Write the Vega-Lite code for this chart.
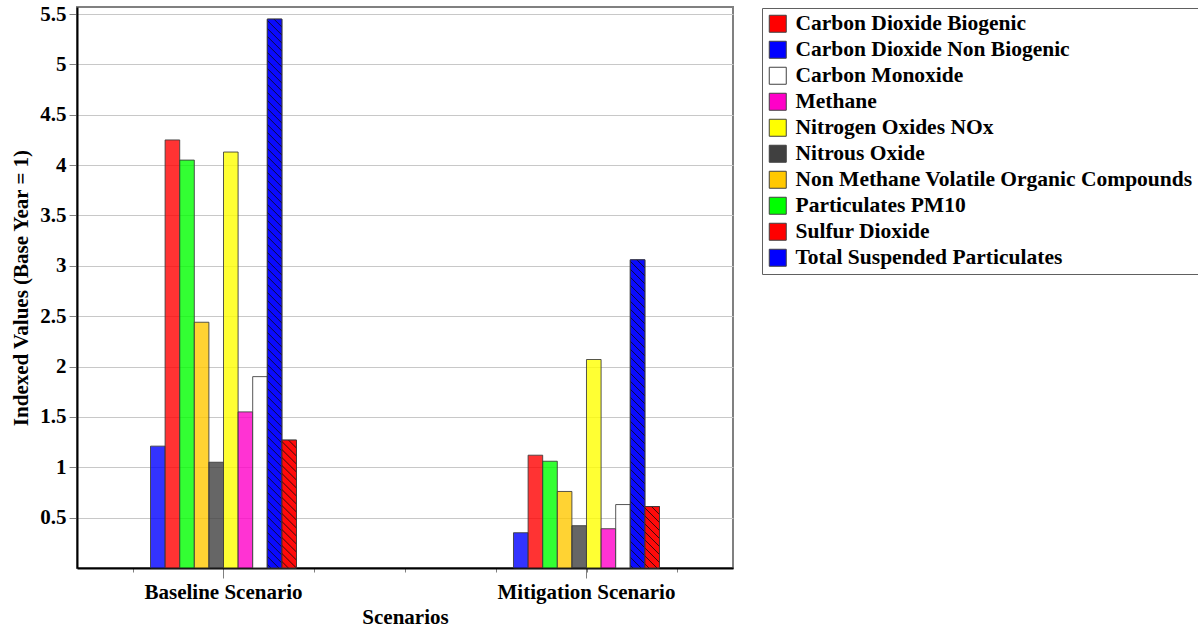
{
"$schema":"https://vega.github.io/schema/vega-lite/v6.json",
"width":656,"height":561,
"autosize":"none",
"padding":{"left":77,"top":7,"right":465,"bottom":62},
"background":"white",
"config":{"font":"Liberation Serif","view":{"stroke":"#808080","strokeWidth":2},
"axis":{"labelFont":"Liberation Serif","labelFontWeight":"bold","labelFontSize":21,"labelColor":"#000","titleFont":"Liberation Serif","titleFontWeight":"bold","titleFontSize":21,"titleColor":"#000"}},
"data":{"values":[
{"scenario":"Baseline Scenario","pollutant":"Total Suspended Particulates","value":1.21},
{"scenario":"Baseline Scenario","pollutant":"Sulfur Dioxide","value":4.25},
{"scenario":"Baseline Scenario","pollutant":"Particulates PM10","value":4.05},
{"scenario":"Baseline Scenario","pollutant":"Non Methane Volatile Organic Compounds","value":2.44},
{"scenario":"Baseline Scenario","pollutant":"Nitrous Oxide","value":1.05},
{"scenario":"Baseline Scenario","pollutant":"Nitrogen Oxides NOx","value":4.13},
{"scenario":"Baseline Scenario","pollutant":"Methane","value":1.55},
{"scenario":"Baseline Scenario","pollutant":"Carbon Monoxide","value":1.9},
{"scenario":"Baseline Scenario","pollutant":"Carbon Dioxide Non Biogenic","value":5.45},
{"scenario":"Baseline Scenario","pollutant":"Carbon Dioxide Biogenic","value":1.27},
{"scenario":"Mitigation Scenario","pollutant":"Total Suspended Particulates","value":0.35},
{"scenario":"Mitigation Scenario","pollutant":"Sulfur Dioxide","value":1.12},
{"scenario":"Mitigation Scenario","pollutant":"Particulates PM10","value":1.06},
{"scenario":"Mitigation Scenario","pollutant":"Non Methane Volatile Organic Compounds","value":0.76},
{"scenario":"Mitigation Scenario","pollutant":"Nitrous Oxide","value":0.42},
{"scenario":"Mitigation Scenario","pollutant":"Nitrogen Oxides NOx","value":2.07},
{"scenario":"Mitigation Scenario","pollutant":"Methane","value":0.39},
{"scenario":"Mitigation Scenario","pollutant":"Carbon Monoxide","value":0.63},
{"scenario":"Mitigation Scenario","pollutant":"Carbon Dioxide Non Biogenic","value":3.06},
{"scenario":"Mitigation Scenario","pollutant":"Carbon Dioxide Biogenic","value":0.61}
]},
"resolve":{"scale":{"x":"independent"},"axis":{"x":"independent"}},
"layer":[
{"mark":{"type":"point","opacity":0},
"encoding":{
"x":{"field":"scenario","type":"nominal","scale":{"type":"point","domain":["m1","Baseline Scenario","m2","m3","m4","Mitigation Scenario","m5"],"padding":0.6143,"align":0.5},
"axis":{"orient":"bottom","title":null,"labels":false,"domain":false,"tickSize":4,"tickColor":"#808080","grid":false}}
}},
{"mark":{"type":"bar","fillOpacity":0.8,"stroke":"#383838","strokeWidth":1,"strokeOpacity":0.85},
"encoding":{
"x":{"field":"scenario","type":"nominal","scale":{"type":"band","domain":["Baseline Scenario","Mitigation Scenario"],"paddingInner":0.5978,"paddingOuter":0.2025},
"axis":{"orient":"bottom","title":"Scenarios","labelAngle":0,"tickSize":10,"tickColor":"#808080","labelPadding":3,"domainColor":"#000","domainWidth":2,"titlePadding":4,"grid":false}},
"xOffset":{"field":"pollutant","type":"nominal","scale":{"domain":["Total Suspended Particulates","Sulfur Dioxide","Particulates PM10","Non Methane Volatile Organic Compounds","Nitrous Oxide","Nitrogen Oxides NOx","Methane","Carbon Monoxide","Carbon Dioxide Non Biogenic","Carbon Dioxide Biogenic"],"paddingInner":0,"paddingOuter":0}},
"y":{"field":"value","type":"quantitative","scale":{"domain":[0,5.57],"nice":false,"zero":true},
"axis":{"title":"Indexed Values (Base Year = 1)","values":[0.5,1,1.5,2,2.5,3,3.5,4,4.5,5,5.5],"format":"~g","grid":true,"gridColor":"#c8c8c8","gridWidth":1,"tickColor":"#808080","tickSize":8,"labelPadding":3,"domainColor":"#000","domainWidth":2,"titlePadding":8}},
"fill":{"field":"pollutant","type":"nominal",
"scale":{"domain":["Carbon Dioxide Biogenic","Carbon Dioxide Non Biogenic","Carbon Monoxide","Methane","Nitrogen Oxides NOx","Nitrous Oxide","Non Methane Volatile Organic Compounds","Particulates PM10","Sulfur Dioxide","Total Suspended Particulates"],
"range":["#ff0000","#0000ff","#ffffff","#ff00c8","#ffff00","#404040","#ffc800","#00ff00","#ff0000","#0000ff"]},
"legend":{"title":null,"orient":"none","legendX":685,"legendY":1,"symbolType":"square","symbolSize":289,"symbolStrokeColor":"#404040","symbolStrokeWidth":1,"symbolOpacity":1,"labelFont":"Liberation Serif","labelFontSize":21.5,"labelFontWeight":"bold","labelColor":"#000","labelOffset":7,"labelLimit":600,"rowPadding":3,"padding":5,"strokeColor":"#606060","fillColor":"#ffffff"}}
}},
{"transform":[{"filter":"datum.scenario === 'Baseline Scenario' && datum.pollutant === 'Carbon Dioxide Non Biogenic'"}],
"mark":{"type":"bar","fillOpacity":0.8,"stroke":"#383838","strokeWidth":1,"strokeOpacity":0.85,"fill":{"gradient":"linear","x1":1,"y1":0,"x2":0.96901,"y2":1.16514,"stops":[
{"offset":0.011,"color":"#00f"},{"offset":0.0125,"color":"#000"},{"offset":0.014,"color":"#00f"},
{"offset":0.0235,"color":"#00f"},{"offset":0.025,"color":"#000"},{"offset":0.0265,"color":"#00f"},
{"offset":0.036,"color":"#00f"},{"offset":0.0375,"color":"#000"},{"offset":0.039,"color":"#00f"},
{"offset":0.0485,"color":"#00f"},{"offset":0.05,"color":"#000"},{"offset":0.0515,"color":"#00f"},
{"offset":0.061,"color":"#00f"},{"offset":0.0625,"color":"#000"},{"offset":0.064,"color":"#00f"},
{"offset":0.0735,"color":"#00f"},{"offset":0.075,"color":"#000"},{"offset":0.0765,"color":"#00f"},
{"offset":0.086,"color":"#00f"},{"offset":0.0875,"color":"#000"},{"offset":0.089,"color":"#00f"},
{"offset":0.0985,"color":"#00f"},{"offset":0.1,"color":"#000"},{"offset":0.1015,"color":"#00f"},
{"offset":0.111,"color":"#00f"},{"offset":0.1125,"color":"#000"},{"offset":0.114,"color":"#00f"},
{"offset":0.1235,"color":"#00f"},{"offset":0.125,"color":"#000"},{"offset":0.1265,"color":"#00f"},
{"offset":0.136,"color":"#00f"},{"offset":0.1375,"color":"#000"},{"offset":0.139,"color":"#00f"},
{"offset":0.1485,"color":"#00f"},{"offset":0.15,"color":"#000"},{"offset":0.1515,"color":"#00f"},
{"offset":0.161,"color":"#00f"},{"offset":0.1625,"color":"#000"},{"offset":0.164,"color":"#00f"},
{"offset":0.1735,"color":"#00f"},{"offset":0.175,"color":"#000"},{"offset":0.1765,"color":"#00f"},
{"offset":0.186,"color":"#00f"},{"offset":0.1875,"color":"#000"},{"offset":0.189,"color":"#00f"},
{"offset":0.1985,"color":"#00f"},{"offset":0.2,"color":"#000"},{"offset":0.2015,"color":"#00f"},
{"offset":0.211,"color":"#00f"},{"offset":0.2125,"color":"#000"},{"offset":0.214,"color":"#00f"},
{"offset":0.2235,"color":"#00f"},{"offset":0.225,"color":"#000"},{"offset":0.2265,"color":"#00f"},
{"offset":0.236,"color":"#00f"},{"offset":0.2375,"color":"#000"},{"offset":0.239,"color":"#00f"},
{"offset":0.2485,"color":"#00f"},{"offset":0.25,"color":"#000"},{"offset":0.2515,"color":"#00f"},
{"offset":0.261,"color":"#00f"},{"offset":0.2625,"color":"#000"},{"offset":0.264,"color":"#00f"},
{"offset":0.2735,"color":"#00f"},{"offset":0.275,"color":"#000"},{"offset":0.2765,"color":"#00f"},
{"offset":0.286,"color":"#00f"},{"offset":0.2875,"color":"#000"},{"offset":0.289,"color":"#00f"},
{"offset":0.2985,"color":"#00f"},{"offset":0.3,"color":"#000"},{"offset":0.3015,"color":"#00f"},
{"offset":0.311,"color":"#00f"},{"offset":0.3125,"color":"#000"},{"offset":0.314,"color":"#00f"},
{"offset":0.3235,"color":"#00f"},{"offset":0.325,"color":"#000"},{"offset":0.3265,"color":"#00f"},
{"offset":0.336,"color":"#00f"},{"offset":0.3375,"color":"#000"},{"offset":0.339,"color":"#00f"},
{"offset":0.3485,"color":"#00f"},{"offset":0.35,"color":"#000"},{"offset":0.3515,"color":"#00f"},
{"offset":0.361,"color":"#00f"},{"offset":0.3625,"color":"#000"},{"offset":0.364,"color":"#00f"},
{"offset":0.3735,"color":"#00f"},{"offset":0.375,"color":"#000"},{"offset":0.3765,"color":"#00f"},
{"offset":0.386,"color":"#00f"},{"offset":0.3875,"color":"#000"},{"offset":0.389,"color":"#00f"},
{"offset":0.3985,"color":"#00f"},{"offset":0.4,"color":"#000"},{"offset":0.4015,"color":"#00f"},
{"offset":0.411,"color":"#00f"},{"offset":0.4125,"color":"#000"},{"offset":0.414,"color":"#00f"},
{"offset":0.4235,"color":"#00f"},{"offset":0.425,"color":"#000"},{"offset":0.4265,"color":"#00f"},
{"offset":0.436,"color":"#00f"},{"offset":0.4375,"color":"#000"},{"offset":0.439,"color":"#00f"},
{"offset":0.4485,"color":"#00f"},{"offset":0.45,"color":"#000"},{"offset":0.4515,"color":"#00f"},
{"offset":0.461,"color":"#00f"},{"offset":0.4625,"color":"#000"},{"offset":0.464,"color":"#00f"},
{"offset":0.4735,"color":"#00f"},{"offset":0.475,"color":"#000"},{"offset":0.4765,"color":"#00f"},
{"offset":0.486,"color":"#00f"},{"offset":0.4875,"color":"#000"},{"offset":0.489,"color":"#00f"},
{"offset":0.4985,"color":"#00f"},{"offset":0.5,"color":"#000"},{"offset":0.5015,"color":"#00f"},
{"offset":0.511,"color":"#00f"},{"offset":0.5125,"color":"#000"},{"offset":0.514,"color":"#00f"},
{"offset":0.5235,"color":"#00f"},{"offset":0.525,"color":"#000"},{"offset":0.5265,"color":"#00f"},
{"offset":0.536,"color":"#00f"},{"offset":0.5375,"color":"#000"},{"offset":0.539,"color":"#00f"},
{"offset":0.5485,"color":"#00f"},{"offset":0.55,"color":"#000"},{"offset":0.5515,"color":"#00f"},
{"offset":0.561,"color":"#00f"},{"offset":0.5625,"color":"#000"},{"offset":0.564,"color":"#00f"},
{"offset":0.5735,"color":"#00f"},{"offset":0.575,"color":"#000"},{"offset":0.5765,"color":"#00f"},
{"offset":0.586,"color":"#00f"},{"offset":0.5875,"color":"#000"},{"offset":0.589,"color":"#00f"},
{"offset":0.5985,"color":"#00f"},{"offset":0.6,"color":"#000"},{"offset":0.6015,"color":"#00f"},
{"offset":0.611,"color":"#00f"},{"offset":0.6125,"color":"#000"},{"offset":0.614,"color":"#00f"},
{"offset":0.6235,"color":"#00f"},{"offset":0.625,"color":"#000"},{"offset":0.6265,"color":"#00f"},
{"offset":0.636,"color":"#00f"},{"offset":0.6375,"color":"#000"},{"offset":0.639,"color":"#00f"},
{"offset":0.6485,"color":"#00f"},{"offset":0.65,"color":"#000"},{"offset":0.6515,"color":"#00f"},
{"offset":0.661,"color":"#00f"},{"offset":0.6625,"color":"#000"},{"offset":0.664,"color":"#00f"},
{"offset":0.6735,"color":"#00f"},{"offset":0.675,"color":"#000"},{"offset":0.6765,"color":"#00f"},
{"offset":0.686,"color":"#00f"},{"offset":0.6875,"color":"#000"},{"offset":0.689,"color":"#00f"},
{"offset":0.6985,"color":"#00f"},{"offset":0.7,"color":"#000"},{"offset":0.7015,"color":"#00f"},
{"offset":0.711,"color":"#00f"},{"offset":0.7125,"color":"#000"},{"offset":0.714,"color":"#00f"},
{"offset":0.7235,"color":"#00f"},{"offset":0.725,"color":"#000"},{"offset":0.7265,"color":"#00f"},
{"offset":0.736,"color":"#00f"},{"offset":0.7375,"color":"#000"},{"offset":0.739,"color":"#00f"},
{"offset":0.7485,"color":"#00f"},{"offset":0.75,"color":"#000"},{"offset":0.7515,"color":"#00f"},
{"offset":0.761,"color":"#00f"},{"offset":0.7625,"color":"#000"},{"offset":0.764,"color":"#00f"},
{"offset":0.7735,"color":"#00f"},{"offset":0.775,"color":"#000"},{"offset":0.7765,"color":"#00f"},
{"offset":0.786,"color":"#00f"},{"offset":0.7875,"color":"#000"},{"offset":0.789,"color":"#00f"},
{"offset":0.7985,"color":"#00f"},{"offset":0.8,"color":"#000"},{"offset":0.8015,"color":"#00f"},
{"offset":0.811,"color":"#00f"},{"offset":0.8125,"color":"#000"},{"offset":0.814,"color":"#00f"},
{"offset":0.8235,"color":"#00f"},{"offset":0.825,"color":"#000"},{"offset":0.8265,"color":"#00f"},
{"offset":0.836,"color":"#00f"},{"offset":0.8375,"color":"#000"},{"offset":0.839,"color":"#00f"},
{"offset":0.8485,"color":"#00f"},{"offset":0.85,"color":"#000"},{"offset":0.8515,"color":"#00f"},
{"offset":0.861,"color":"#00f"},{"offset":0.8625,"color":"#000"},{"offset":0.864,"color":"#00f"},
{"offset":0.8735,"color":"#00f"},{"offset":0.875,"color":"#000"},{"offset":0.8765,"color":"#00f"},
{"offset":0.886,"color":"#00f"},{"offset":0.8875,"color":"#000"},{"offset":0.889,"color":"#00f"}]}},
"encoding":{
"x":{"field":"scenario","type":"nominal","scale":{"type":"band","domain":["Baseline Scenario","Mitigation Scenario"],"paddingInner":0.5978,"paddingOuter":0.2025},"axis":null},
"xOffset":{"field":"pollutant","type":"nominal","scale":{"domain":["Total Suspended Particulates","Sulfur Dioxide","Particulates PM10","Non Methane Volatile Organic Compounds","Nitrous Oxide","Nitrogen Oxides NOx","Methane","Carbon Monoxide","Carbon Dioxide Non Biogenic","Carbon Dioxide Biogenic"],"paddingInner":0,"paddingOuter":0}},
"y":{"field":"value","type":"quantitative"}}},
{"transform":[{"filter":"datum.scenario === 'Mitigation Scenario' && datum.pollutant === 'Carbon Dioxide Non Biogenic'"}],
"mark":{"type":"bar","fillOpacity":0.8,"stroke":"#383838","strokeWidth":1,"strokeOpacity":0.85,"fill":{"gradient":"linear","x1":1,"y1":0,"x2":0.90185,"y2":2.07193,"stops":[
{"offset":0.011,"color":"#00f"},{"offset":0.0125,"color":"#000"},{"offset":0.014,"color":"#00f"},
{"offset":0.0235,"color":"#00f"},{"offset":0.025,"color":"#000"},{"offset":0.0265,"color":"#00f"},
{"offset":0.036,"color":"#00f"},{"offset":0.0375,"color":"#000"},{"offset":0.039,"color":"#00f"},
{"offset":0.0485,"color":"#00f"},{"offset":0.05,"color":"#000"},{"offset":0.0515,"color":"#00f"},
{"offset":0.061,"color":"#00f"},{"offset":0.0625,"color":"#000"},{"offset":0.064,"color":"#00f"},
{"offset":0.0735,"color":"#00f"},{"offset":0.075,"color":"#000"},{"offset":0.0765,"color":"#00f"},
{"offset":0.086,"color":"#00f"},{"offset":0.0875,"color":"#000"},{"offset":0.089,"color":"#00f"},
{"offset":0.0985,"color":"#00f"},{"offset":0.1,"color":"#000"},{"offset":0.1015,"color":"#00f"},
{"offset":0.111,"color":"#00f"},{"offset":0.1125,"color":"#000"},{"offset":0.114,"color":"#00f"},
{"offset":0.1235,"color":"#00f"},{"offset":0.125,"color":"#000"},{"offset":0.1265,"color":"#00f"},
{"offset":0.136,"color":"#00f"},{"offset":0.1375,"color":"#000"},{"offset":0.139,"color":"#00f"},
{"offset":0.1485,"color":"#00f"},{"offset":0.15,"color":"#000"},{"offset":0.1515,"color":"#00f"},
{"offset":0.161,"color":"#00f"},{"offset":0.1625,"color":"#000"},{"offset":0.164,"color":"#00f"},
{"offset":0.1735,"color":"#00f"},{"offset":0.175,"color":"#000"},{"offset":0.1765,"color":"#00f"},
{"offset":0.186,"color":"#00f"},{"offset":0.1875,"color":"#000"},{"offset":0.189,"color":"#00f"},
{"offset":0.1985,"color":"#00f"},{"offset":0.2,"color":"#000"},{"offset":0.2015,"color":"#00f"},
{"offset":0.211,"color":"#00f"},{"offset":0.2125,"color":"#000"},{"offset":0.214,"color":"#00f"},
{"offset":0.2235,"color":"#00f"},{"offset":0.225,"color":"#000"},{"offset":0.2265,"color":"#00f"},
{"offset":0.236,"color":"#00f"},{"offset":0.2375,"color":"#000"},{"offset":0.239,"color":"#00f"},
{"offset":0.2485,"color":"#00f"},{"offset":0.25,"color":"#000"},{"offset":0.2515,"color":"#00f"},
{"offset":0.261,"color":"#00f"},{"offset":0.2625,"color":"#000"},{"offset":0.264,"color":"#00f"},
{"offset":0.2735,"color":"#00f"},{"offset":0.275,"color":"#000"},{"offset":0.2765,"color":"#00f"},
{"offset":0.286,"color":"#00f"},{"offset":0.2875,"color":"#000"},{"offset":0.289,"color":"#00f"},
{"offset":0.2985,"color":"#00f"},{"offset":0.3,"color":"#000"},{"offset":0.3015,"color":"#00f"},
{"offset":0.311,"color":"#00f"},{"offset":0.3125,"color":"#000"},{"offset":0.314,"color":"#00f"},
{"offset":0.3235,"color":"#00f"},{"offset":0.325,"color":"#000"},{"offset":0.3265,"color":"#00f"},
{"offset":0.336,"color":"#00f"},{"offset":0.3375,"color":"#000"},{"offset":0.339,"color":"#00f"},
{"offset":0.3485,"color":"#00f"},{"offset":0.35,"color":"#000"},{"offset":0.3515,"color":"#00f"},
{"offset":0.361,"color":"#00f"},{"offset":0.3625,"color":"#000"},{"offset":0.364,"color":"#00f"},
{"offset":0.3735,"color":"#00f"},{"offset":0.375,"color":"#000"},{"offset":0.3765,"color":"#00f"},
{"offset":0.386,"color":"#00f"},{"offset":0.3875,"color":"#000"},{"offset":0.389,"color":"#00f"},
{"offset":0.3985,"color":"#00f"},{"offset":0.4,"color":"#000"},{"offset":0.4015,"color":"#00f"},
{"offset":0.411,"color":"#00f"},{"offset":0.4125,"color":"#000"},{"offset":0.414,"color":"#00f"},
{"offset":0.4235,"color":"#00f"},{"offset":0.425,"color":"#000"},{"offset":0.4265,"color":"#00f"},
{"offset":0.436,"color":"#00f"},{"offset":0.4375,"color":"#000"},{"offset":0.439,"color":"#00f"},
{"offset":0.4485,"color":"#00f"},{"offset":0.45,"color":"#000"},{"offset":0.4515,"color":"#00f"},
{"offset":0.461,"color":"#00f"},{"offset":0.4625,"color":"#000"},{"offset":0.464,"color":"#00f"},
{"offset":0.4735,"color":"#00f"},{"offset":0.475,"color":"#000"},{"offset":0.4765,"color":"#00f"},
{"offset":0.486,"color":"#00f"},{"offset":0.4875,"color":"#000"},{"offset":0.489,"color":"#00f"},
{"offset":0.4985,"color":"#00f"},{"offset":0.5,"color":"#000"},{"offset":0.5015,"color":"#00f"},
{"offset":0.511,"color":"#00f"},{"offset":0.5125,"color":"#000"},{"offset":0.514,"color":"#00f"}]}},
"encoding":{
"x":{"field":"scenario","type":"nominal","scale":{"type":"band","domain":["Baseline Scenario","Mitigation Scenario"],"paddingInner":0.5978,"paddingOuter":0.2025},"axis":null},
"xOffset":{"field":"pollutant","type":"nominal","scale":{"domain":["Total Suspended Particulates","Sulfur Dioxide","Particulates PM10","Non Methane Volatile Organic Compounds","Nitrous Oxide","Nitrogen Oxides NOx","Methane","Carbon Monoxide","Carbon Dioxide Non Biogenic","Carbon Dioxide Biogenic"],"paddingInner":0,"paddingOuter":0}},
"y":{"field":"value","type":"quantitative"}}},
{"transform":[{"filter":"datum.scenario === 'Baseline Scenario' && datum.pollutant === 'Carbon Dioxide Biogenic'"}],
"mark":{"type":"bar","fillOpacity":0.8,"stroke":"#383838","strokeWidth":1,"strokeOpacity":0.85,"fill":{"gradient":"linear","x1":1,"y1":0,"x2":0.43614,"y2":4.93953,"stops":[
{"offset":0.011,"color":"#f00"},{"offset":0.0125,"color":"#000"},{"offset":0.014,"color":"#f00"},
{"offset":0.0235,"color":"#f00"},{"offset":0.025,"color":"#000"},{"offset":0.0265,"color":"#f00"},
{"offset":0.036,"color":"#f00"},{"offset":0.0375,"color":"#000"},{"offset":0.039,"color":"#f00"},
{"offset":0.0485,"color":"#f00"},{"offset":0.05,"color":"#000"},{"offset":0.0515,"color":"#f00"},
{"offset":0.061,"color":"#f00"},{"offset":0.0625,"color":"#000"},{"offset":0.064,"color":"#f00"},
{"offset":0.0735,"color":"#f00"},{"offset":0.075,"color":"#000"},{"offset":0.0765,"color":"#f00"},
{"offset":0.086,"color":"#f00"},{"offset":0.0875,"color":"#000"},{"offset":0.089,"color":"#f00"},
{"offset":0.0985,"color":"#f00"},{"offset":0.1,"color":"#000"},{"offset":0.1015,"color":"#f00"},
{"offset":0.111,"color":"#f00"},{"offset":0.1125,"color":"#000"},{"offset":0.114,"color":"#f00"},
{"offset":0.1235,"color":"#f00"},{"offset":0.125,"color":"#000"},{"offset":0.1265,"color":"#f00"},
{"offset":0.136,"color":"#f00"},{"offset":0.1375,"color":"#000"},{"offset":0.139,"color":"#f00"},
{"offset":0.1485,"color":"#f00"},{"offset":0.15,"color":"#000"},{"offset":0.1515,"color":"#f00"},
{"offset":0.161,"color":"#f00"},{"offset":0.1625,"color":"#000"},{"offset":0.164,"color":"#f00"},
{"offset":0.1735,"color":"#f00"},{"offset":0.175,"color":"#000"},{"offset":0.1765,"color":"#f00"},
{"offset":0.186,"color":"#f00"},{"offset":0.1875,"color":"#000"},{"offset":0.189,"color":"#f00"},
{"offset":0.1985,"color":"#f00"},{"offset":0.2,"color":"#000"},{"offset":0.2015,"color":"#f00"},
{"offset":0.211,"color":"#f00"},{"offset":0.2125,"color":"#000"},{"offset":0.214,"color":"#f00"},
{"offset":0.2235,"color":"#f00"},{"offset":0.225,"color":"#000"},{"offset":0.2265,"color":"#f00"}]}},
"encoding":{
"x":{"field":"scenario","type":"nominal","scale":{"type":"band","domain":["Baseline Scenario","Mitigation Scenario"],"paddingInner":0.5978,"paddingOuter":0.2025},"axis":null},
"xOffset":{"field":"pollutant","type":"nominal","scale":{"domain":["Total Suspended Particulates","Sulfur Dioxide","Particulates PM10","Non Methane Volatile Organic Compounds","Nitrous Oxide","Nitrogen Oxides NOx","Methane","Carbon Monoxide","Carbon Dioxide Non Biogenic","Carbon Dioxide Biogenic"],"paddingInner":0,"paddingOuter":0}},
"y":{"field":"value","type":"quantitative"}}},
{"transform":[{"filter":"datum.scenario === 'Mitigation Scenario' && datum.pollutant === 'Carbon Dioxide Biogenic'"}],
"mark":{"type":"bar","fillOpacity":0.8,"stroke":"#383838","strokeWidth":1,"strokeOpacity":0.85,"fill":{"gradient":"linear","x1":1,"y1":0,"x2":-1.34302,"y2":9.85995,"stops":[
{"offset":0.011,"color":"#f00"},{"offset":0.0125,"color":"#000"},{"offset":0.014,"color":"#f00"},
{"offset":0.0235,"color":"#f00"},{"offset":0.025,"color":"#000"},{"offset":0.0265,"color":"#f00"},
{"offset":0.036,"color":"#f00"},{"offset":0.0375,"color":"#000"},{"offset":0.039,"color":"#f00"},
{"offset":0.0485,"color":"#f00"},{"offset":0.05,"color":"#000"},{"offset":0.0515,"color":"#f00"},
{"offset":0.061,"color":"#f00"},{"offset":0.0625,"color":"#000"},{"offset":0.064,"color":"#f00"},
{"offset":0.0735,"color":"#f00"},{"offset":0.075,"color":"#000"},{"offset":0.0765,"color":"#f00"},
{"offset":0.086,"color":"#f00"},{"offset":0.0875,"color":"#000"},{"offset":0.089,"color":"#f00"},
{"offset":0.0985,"color":"#f00"},{"offset":0.1,"color":"#000"},{"offset":0.1015,"color":"#f00"},
{"offset":0.111,"color":"#f00"},{"offset":0.1125,"color":"#000"},{"offset":0.114,"color":"#f00"},
{"offset":0.1235,"color":"#f00"},{"offset":0.125,"color":"#000"},{"offset":0.1265,"color":"#f00"}]}},
"encoding":{
"x":{"field":"scenario","type":"nominal","scale":{"type":"band","domain":["Baseline Scenario","Mitigation Scenario"],"paddingInner":0.5978,"paddingOuter":0.2025},"axis":null},
"xOffset":{"field":"pollutant","type":"nominal","scale":{"domain":["Total Suspended Particulates","Sulfur Dioxide","Particulates PM10","Non Methane Volatile Organic Compounds","Nitrous Oxide","Nitrogen Oxides NOx","Methane","Carbon Monoxide","Carbon Dioxide Non Biogenic","Carbon Dioxide Biogenic"],"paddingInner":0,"paddingOuter":0}},
"y":{"field":"value","type":"quantitative"}}}
]
}
